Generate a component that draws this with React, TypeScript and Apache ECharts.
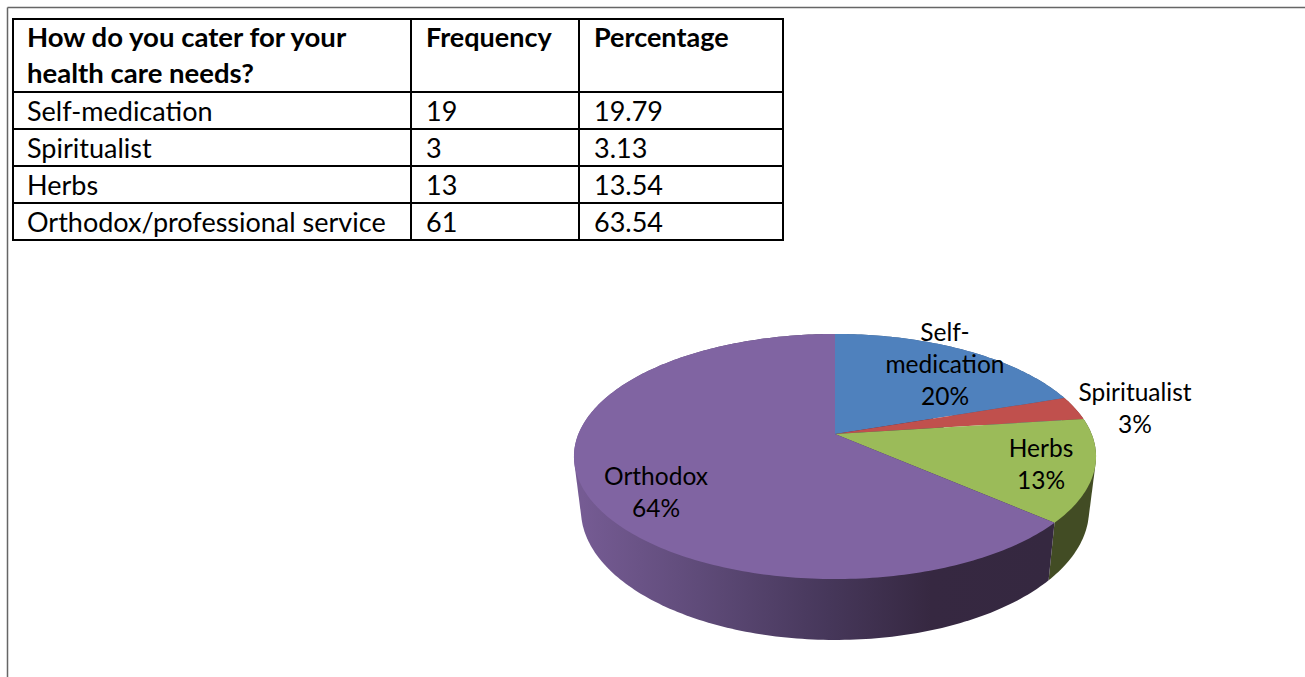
import React, { useEffect, useRef } from "react";
import * as echarts from "echarts";

const headerRow = ["How do you cater for your\nhealth care needs?", "Frequency", "Percentage"];
const categories = ["Self-medication", "Spiritualist", "Herbs", "Orthodox/professional service"];
const frequencies = [19, 3, 13, 61];
const percentages = ["19.79", "3.13", "13.54", "63.54"];
const pieNames = ["Self-\nmedication", "Spiritualist", "Herbs", "Orthodox"];
const pieLabelPercents = [20, 3, 13, 64];
const pieColors = ["#4f81bd", "#c0504d", "#9bbb59", "#8064a2"];

const W = 1305, H = 677;
const FONT = "Lato";
const TABLE_FONT = 27;
const LABEL_FONT = 24.5;
const colX = [13, 411, 579, 783];
const rowY = [19, 92, 129, 166, 203, 240];
const labelCentres = [[945, 363], [1135, 407], [1041, 463], [656, 491]];

const APEX_X = 835, APEX_Y = 434;
const C = -0.1837;
const TOP = { a: 118.4, b: 256.6, off: 0 };
const BOTTOM = { a: 125.6, b: 249.7, off: 52.1 };
const total = frequencies.reduce((s, v) => s + v, 0);

function project(frac: number, p: { a: number; b: number; off: number }): number[] {
  const t = frac * 2 * Math.PI;
  const u = Math.sin(t), v = -Math.cos(t);
  const d = 1 + C * v;
  return [APEX_X + (p.b * u) / d, APEX_Y + p.off + (p.a * v) / d];
}

function arc(f0: number, f1: number, p: { a: number; b: number; off: number }): number[][] {
  const n = Math.max(2, Math.ceil((f1 - f0) * 360));
  const pts: number[][] = [];
  for (let i = 0; i <= n; i++) pts.push(project(f0 + ((f1 - f0) * i) / n, p));
  return pts;
}

function hull(points: number[][]): number[][] {
  const pts = points.slice().sort((a, b) => a[0] - b[0] || a[1] - b[1]);
  const cross = (o: number[], a: number[], b: number[]) =>
    (a[0] - o[0]) * (b[1] - o[1]) - (a[1] - o[1]) * (b[0] - o[0]);
  const lo: number[][] = [];
  for (const p of pts) {
    while (lo.length >= 2 && cross(lo[lo.length - 2], lo[lo.length - 1], p) <= 0) lo.pop();
    lo.push(p);
  }
  const up: number[][] = [];
  for (let i = pts.length - 1; i >= 0; i--) {
    const p = pts[i];
    while (up.length >= 2 && cross(up[up.length - 2], up[up.length - 1], p) <= 0) up.pop();
    up.push(p);
  }
  return lo.slice(0, -1).concat(up.slice(0, -1));
}

const starts: number[] = [];
frequencies.reduce((s, v, i) => {
  starts[i] = s;
  return s + v / total;
}, 0);

const sideFills: any[] = [
  "#3a5a80",
  "#6e2f2d",
  "#424c24",
  new echarts.graphic.LinearGradient(
    582, 0, 1048, 0,
    [
      { offset: 0, color: "#755b93" },
      { offset: 0.25, color: "#5f4b79" },
      { offset: 0.53, color: "#46375a" },
      { offset: 0.75, color: "#362841" },
      { offset: 1, color: "#352840" },
    ],
    true
  ),
];

function App() {
  const ref = useRef<HTMLDivElement>(null);
  useEffect(() => {
    document.body.style.margin = "0";
    const chart = echarts.init(ref.current!, undefined, { renderer: "svg" });

    const cellText = (x: number, y: number, text: string, bold = false, scaleX = 1) => ({
      type: "text",
      x,
      y,
      scaleX,
      silent: true,
      style: {
        text,
        fill: "#000",
        font: `${bold ? "bold " : ""}${TABLE_FONT}px ${FONT}`,
        lineHeight: 36,
        textAlign: "left",
        textVerticalAlign: "top",
      },
    });
    const line = (x1: number, y1: number, x2: number, y2: number, color: string, w: number) => ({
      type: "line",
      silent: true,
      shape: { x1, y1, x2, y2 },
      style: { stroke: color, lineWidth: w },
    });

    const graphics: any[] = [
      line(7.5, 7.5, W, 7.5, "#666666", 1.5),
      line(7.5, 7.5, 7.5, H, "#666666", 1.5),
    ];
    colX.forEach((x) => graphics.push(line(x, rowY[0] - 1, x, rowY[5] + 1, "#000", 2)));
    rowY.forEach((y) => graphics.push(line(colX[0], y, colX[3], y, "#000", 2)));
    headerRow.forEach((t, c) =>
      graphics.push(cellText(colX[c] + (c === 0 ? 14 : 15), 18.5, t, true, c === 0 ? 1.02 : 1))
    );
    categories.forEach((name, r) => {
      const y = rowY[r + 1];
      graphics.push(cellText(colX[0] + 14, y, name));
      graphics.push(cellText(colX[1] + 15, y, String(frequencies[r])));
      graphics.push(cellText(colX[2] + 15, y, percentages[r]));
    });

    const sliceData = frequencies.map((v, i) => ({ value: v, name: categories[i] }));
    const poly = (points: number[][], fill: any) => ({
      type: "polygon",
      shape: { points },
      style: { fill, stroke: null },
    });

    chart.setOption({
      animation: false,
      backgroundColor: "#fff",
      graphic: graphics,
      series: [
        {
          type: "custom",
          coordinateSystem: "none",
          silent: true,
          z: 2,
          data: sliceData,
          renderItem: (p: any) => {
            const i = p.dataIndex;
            const f0 = starts[i], f1 = f0 + frequencies[i] / total;
            return poly(hull(arc(f0, f1, TOP).concat(arc(f0, f1, BOTTOM))), sideFills[i]);
          },
        },
        {
          type: "custom",
          coordinateSystem: "none",
          silent: true,
          z: 3,
          data: sliceData,
          renderItem: (p: any) => {
            const i = p.dataIndex;
            const f0 = starts[i], f1 = f0 + frequencies[i] / total;
            return poly([[APEX_X, APEX_Y], ...arc(f0, f1, TOP)], pieColors[i]);
          },
        },
        {
          type: "custom",
          coordinateSystem: "none",
          silent: true,
          z: 4,
          data: sliceData,
          renderItem: (p: any) => {
            const i = p.dataIndex;
            return {
              type: "text",
              x: labelCentres[i][0],
              y: labelCentres[i][1],
              style: {
                text: `${pieNames[i]}\n${pieLabelPercents[i]}%`,
                fill: "#000",
                font: `${LABEL_FONT}px ${FONT}`,
                lineHeight: 32,
                textAlign: "center",
                textVerticalAlign: "middle",
              },
            };
          },
        },
      ],
    });
    return () => chart.dispose();
  }, []);
  return <div ref={ref} style={{ width: W, height: H, fontVariantLigatures: "none" }} />;
}

export default App;
